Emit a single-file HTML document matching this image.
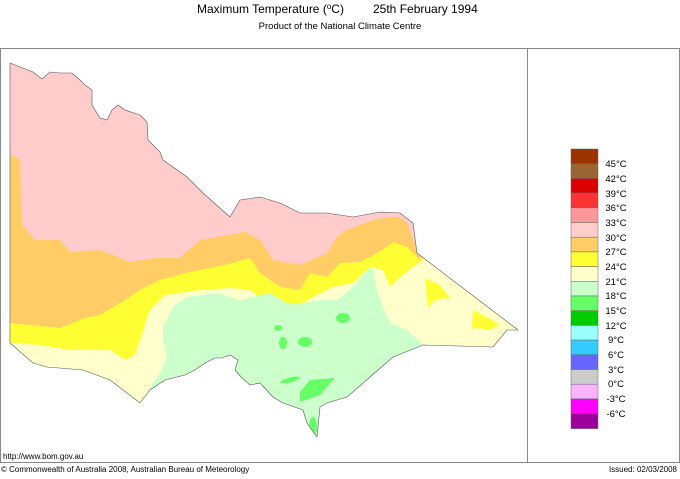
<!DOCTYPE html>
<html><head><meta charset="utf-8"><style>
body{margin:0;background:#fff;width:680px;height:474px;overflow:hidden;font-family:"Liberation Sans",sans-serif;}
</style></head><body>
<svg width="680" height="474" xmlns="http://www.w3.org/2000/svg" font-family="Liberation Sans, sans-serif">
<text x="197" y="13" font-size="12" fill="#000">Maximum Temperature (<tspan font-size="8" dy="-4">o</tspan><tspan dy="4">C)</tspan></text>
<text x="373" y="13" font-size="12" fill="#000">25th February 1994</text>
<text x="340" y="29" font-size="9.5" text-anchor="middle" fill="#000">Product of the National Climate Centre</text>
<rect x="0.5" y="48.5" width="679" height="414" fill="none" stroke="#888"/>
<line x1="527.5" y1="48" x2="527.5" y2="463" stroke="#888"/>
<defs><clipPath id="vic"><polygon id="vp" points="10,63 20,67 33,72 42,79 50,72 60,73 72,73 80,80 85,85 92,90 92,105 100,118 107,120 112,110 118,105 125,110 140,115 147,122 148,140 160,152 163,160 187,177 203,193 230,217 240,200 260,197 280,203 300,213 327,213 353,217 380,212 400,213 413,223 417,253 518,330 507,330 493,347 423,345 393,357 370,377 347,397 327,403 320,407 317,437 307,423 303,410 283,403 273,397 260,383 250,385 242,378 235,370 238,360 230,355 222,358 215,358 205,363 195,370 185,375 165,380 150,390 140,403 127,393 110,380 83,370 47,367 33,363 10,343"/></clipPath></defs>
<g clip-path="url(#vic)">
<rect x="0" y="50" width="527" height="410" fill="#ffffcc"/>
<polygon fill="#ffff33" points="0,240 0,342 40,345 70,350 110,350 125,360 135,355 140,340 150,310 165,295 200,290 230,288 250,290 260,297 280,303 300,305 313,297 333,287 353,283 370,267 383,270 390,287 400,277 413,267 423,260 430,200 0,200"/>
<polygon fill="#ffcc66" points="0,150 0,322 30,325 60,328 85,318 100,315 125,300 140,290 160,280 190,272 225,265 250,258 260,273 280,287 300,290 310,273 327,277 340,263 360,262 370,257 387,247 393,242 407,247 420,260 430,200 0,140"/>
<polygon fill="#ffcccc" points="0,50 430,50 422,260 417,250 407,223 400,217 390,217 373,220 347,230 337,237 327,253 300,265 273,260 260,240 245,232 200,240 180,258 155,258 130,262 100,250 70,252 60,240 35,240 22,225 20,160 10,154 0,154"/>
<polygon fill="#ccffcc" points="140,403 147,393 160,373 167,357 163,340 163,327 173,307 187,297 217,293 240,300 270,293 290,305 323,300 337,300 353,287 367,270 373,267 375,283 380,300 390,323 407,330 423,345 430,450 130,450"/>
<ellipse cx="408" cy="300" rx="6" ry="10" fill="#ffffcc"/>
<polygon fill="#66ff66" points="300,392 310,380 335,378 320,395 300,402"/>
<ellipse cx="313" cy="427" rx="4" ry="10" fill="#66ff66"/>
<ellipse cx="290" cy="380" rx="10" ry="2.5" fill="#66ff66" transform="rotate(-15 290 380)"/>
<ellipse cx="283" cy="343" rx="4" ry="6" fill="#66ff66"/>
<ellipse cx="305" cy="342" rx="7" ry="5" fill="#66ff66"/>
<ellipse cx="278" cy="328" rx="4" ry="3" fill="#66ff66"/>
<ellipse cx="343" cy="318" rx="7" ry="5" fill="#66ff66"/>
<ellipse cx="207" cy="368" rx="3.5" ry="10" fill="#66ff66" transform="rotate(40 207 368)"/>
<ellipse cx="232" cy="378" rx="8" ry="5" fill="#66ff66"/>
<ellipse cx="173" cy="387" rx="3" ry="8" fill="#66ff66" transform="rotate(40 173 387)"/>
<polygon fill="#ffff33" points="425,278 440,285 450,298 435,300 428,308"/>
<polygon fill="#ffff33" points="473,310 483,315 500,325 490,330 475,328 472,330"/>
</g>
<use href="#vp" fill="none" stroke="#555" stroke-width="0.6"/>
<g stroke="#666" stroke-width="0.5">
<rect x="571" y="149" width="27" height="14.7" fill="#993300"/>
<rect x="571" y="163.7" width="27" height="14.7" fill="#996633"/>
<rect x="571" y="178.4" width="27" height="14.7" fill="#dd0000"/>
<rect x="571" y="193.1" width="27" height="14.7" fill="#ff3333"/>
<rect x="571" y="207.8" width="27" height="14.7" fill="#ff9999"/>
<rect x="571" y="222.5" width="27" height="14.7" fill="#ffcccc"/>
<rect x="571" y="237.2" width="27" height="14.7" fill="#ffcc66"/>
<rect x="571" y="251.9" width="27" height="14.7" fill="#ffff33"/>
<rect x="571" y="266.6" width="27" height="14.7" fill="#ffffcc"/>
<rect x="571" y="281.3" width="27" height="14.7" fill="#ccffcc"/>
<rect x="571" y="296" width="27" height="14.7" fill="#66ff66"/>
<rect x="571" y="310.7" width="27" height="14.7" fill="#00cc00"/>
<rect x="571" y="325.4" width="27" height="14.7" fill="#99ffff"/>
<rect x="571" y="340.1" width="27" height="14.7" fill="#33ccff"/>
<rect x="571" y="354.8" width="27" height="14.7" fill="#6666ff"/>
<rect x="571" y="369.5" width="27" height="14.7" fill="#cccccc"/>
<rect x="571" y="384.2" width="27" height="14.7" fill="#ffb3ff"/>
<rect x="571" y="398.9" width="27" height="14.7" fill="#ff00ff"/>
<rect x="571" y="413.6" width="27" height="15" fill="#990099"/>
</g>
<g font-size="9.5" fill="#000" text-anchor="middle">
<text x="616" y="167">45°C</text><text x="616" y="182">42°C</text><text x="616" y="197">39°C</text>
<text x="616" y="211">36°C</text><text x="616" y="226">33°C</text><text x="616" y="241">30°C</text>
<text x="616" y="255">27°C</text><text x="616" y="270">24°C</text><text x="616" y="285">21°C</text>
<text x="616" y="299">18°C</text><text x="616" y="314">15°C</text><text x="616" y="329">12°C</text>
<text x="616" y="343">9°C</text><text x="616" y="358">6°C</text><text x="616" y="373">3°C</text>
<text x="616" y="387">0°C</text><text x="616" y="402">-3°C</text><text x="616" y="417">-6°C</text>
</g>
<text x="3" y="459" font-size="8" fill="#000">http://www.bom.gov.au</text>
<text x="1" y="472" font-size="8" fill="#000">© Commonwealth of Australia 2008, Australian Bureau of Meteorology</text>
<text x="677" y="472" font-size="8" fill="#000" text-anchor="end">Issued: 02/03/2008</text>
</svg>
</body></html>
